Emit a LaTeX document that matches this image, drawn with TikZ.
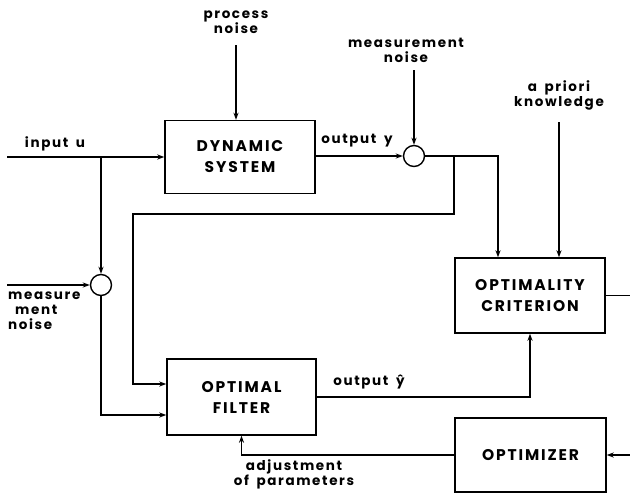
\documentclass[tikz,border=0pt]{standalone}
\usepackage{fontspec}
\setmainfont{Poppins}[LetterSpace=12,WordSpace=1.7]
\newfontfamily\blkfont{Poppins}[LetterSpace=12]
\usetikzlibrary{arrows.meta}
\begin{document}
\begin{tikzpicture}[x=1pt,y=-1pt,
  blk/.style={draw,line width=1.4pt,inner sep=0pt,align=center,font=\blkfont\fontsize{15.5}{21}\selectfont\bfseries},
  sumc/.style={draw,circle,line width=1.4pt,minimum size=21pt,inner sep=0pt},
  lbl/.style={align=center,inner sep=0pt,font=\fontsize{13.5}{15}\selectfont\bfseries},
  arr/.style={line width=1.3pt,-{Stealth[length=7pt,width=5pt]}},
  ln/.style={line width=1.3pt}]
\useasboundingbox (0,0) rectangle (630,496);
% blocks
\node[blk,minimum width=150pt,minimum height=73pt] (ds) at (240,157) {DYNAMIC\\SYSTEM};
\node[blk,minimum width=149pt,minimum height=76pt] (of) at (241.5,397) {OPTIMAL\\FILTER};
\node[blk,minimum width=150pt,minimum height=75pt] (oc) at (530,295.5) {OPTIMALITY\\CRITERION};
\node[blk,minimum width=151pt,minimum height=74pt] (opt) at (530.5,455) {OPTIMIZER};
\node[sumc] (c1) at (414,156) {};
\node[sumc] (c2) at (101,285) {};
% labels
\node[lbl] (lpn) at (236,22) {process\\noise};
\node[lbl] (lmn) at (406,50) {measurement\\noise};
\node[lbl] (lap) at (559,95) {a priori\\knowledge};
\node[lbl] (lin) at (55,144) {input u};
\node[lbl] (loy) at (357,141) {output y};
\node[lbl] (loh) at (369,382) {output ŷ};
\node[lbl,align=left,anchor=north west] (lmn2) at (8,292) {measure\\\hspace*{7pt}ment\\noise};
\node[lbl] (ladj) at (294,474) {adjustment\\of parameters};
% coordinates
\coordinate (uin) at (7,157);
\coordinate (j1) at (101,157);
\coordinate (mnin) at (7,285);
\coordinate (fb2) at (101,415);
\coordinate (t1) at (454,156);
\coordinate (t2) at (454,214);
\coordinate (t3) at (133,214);
\coordinate (t4) at (133,384);
\coordinate (pn) at (236,45);
\coordinate (mn) at (414,70);
\coordinate (k) at (498,156);
\coordinate (ap) at (559,122);
\coordinate (rt) at (630,0);
% connectors
\draw[arr] (uin) -- (ds.west);
\draw[arr] (j1) -- (c2.north);
\draw[arr] (mnin) -- (c2.west);
\draw[arr] (c2.south) -- (fb2) -- (fb2 -| of.west);
\draw[arr] (t1) -- (t2) -- (t3) -- (t4) -- (t4 -| of.west);
\draw[arr] (pn) -- (pn |- ds.north);
\draw[arr] (ds.east |- c1) -- (c1.west);
\draw[arr] (mn) -- (c1.north);
\draw[arr] (c1.east) -- (k) -- (k |- oc.north);
\draw[arr] (ap) -- (ap |- oc.north);
\draw[ln] (oc.east) -- (oc.east -| rt);
\draw[arr] (of.east) -| (oc.south);
\draw[arr] (opt.east -| rt) -- (opt.east);
\draw[arr] (opt.west) -| (of.south);
\end{tikzpicture}
\end{document}
